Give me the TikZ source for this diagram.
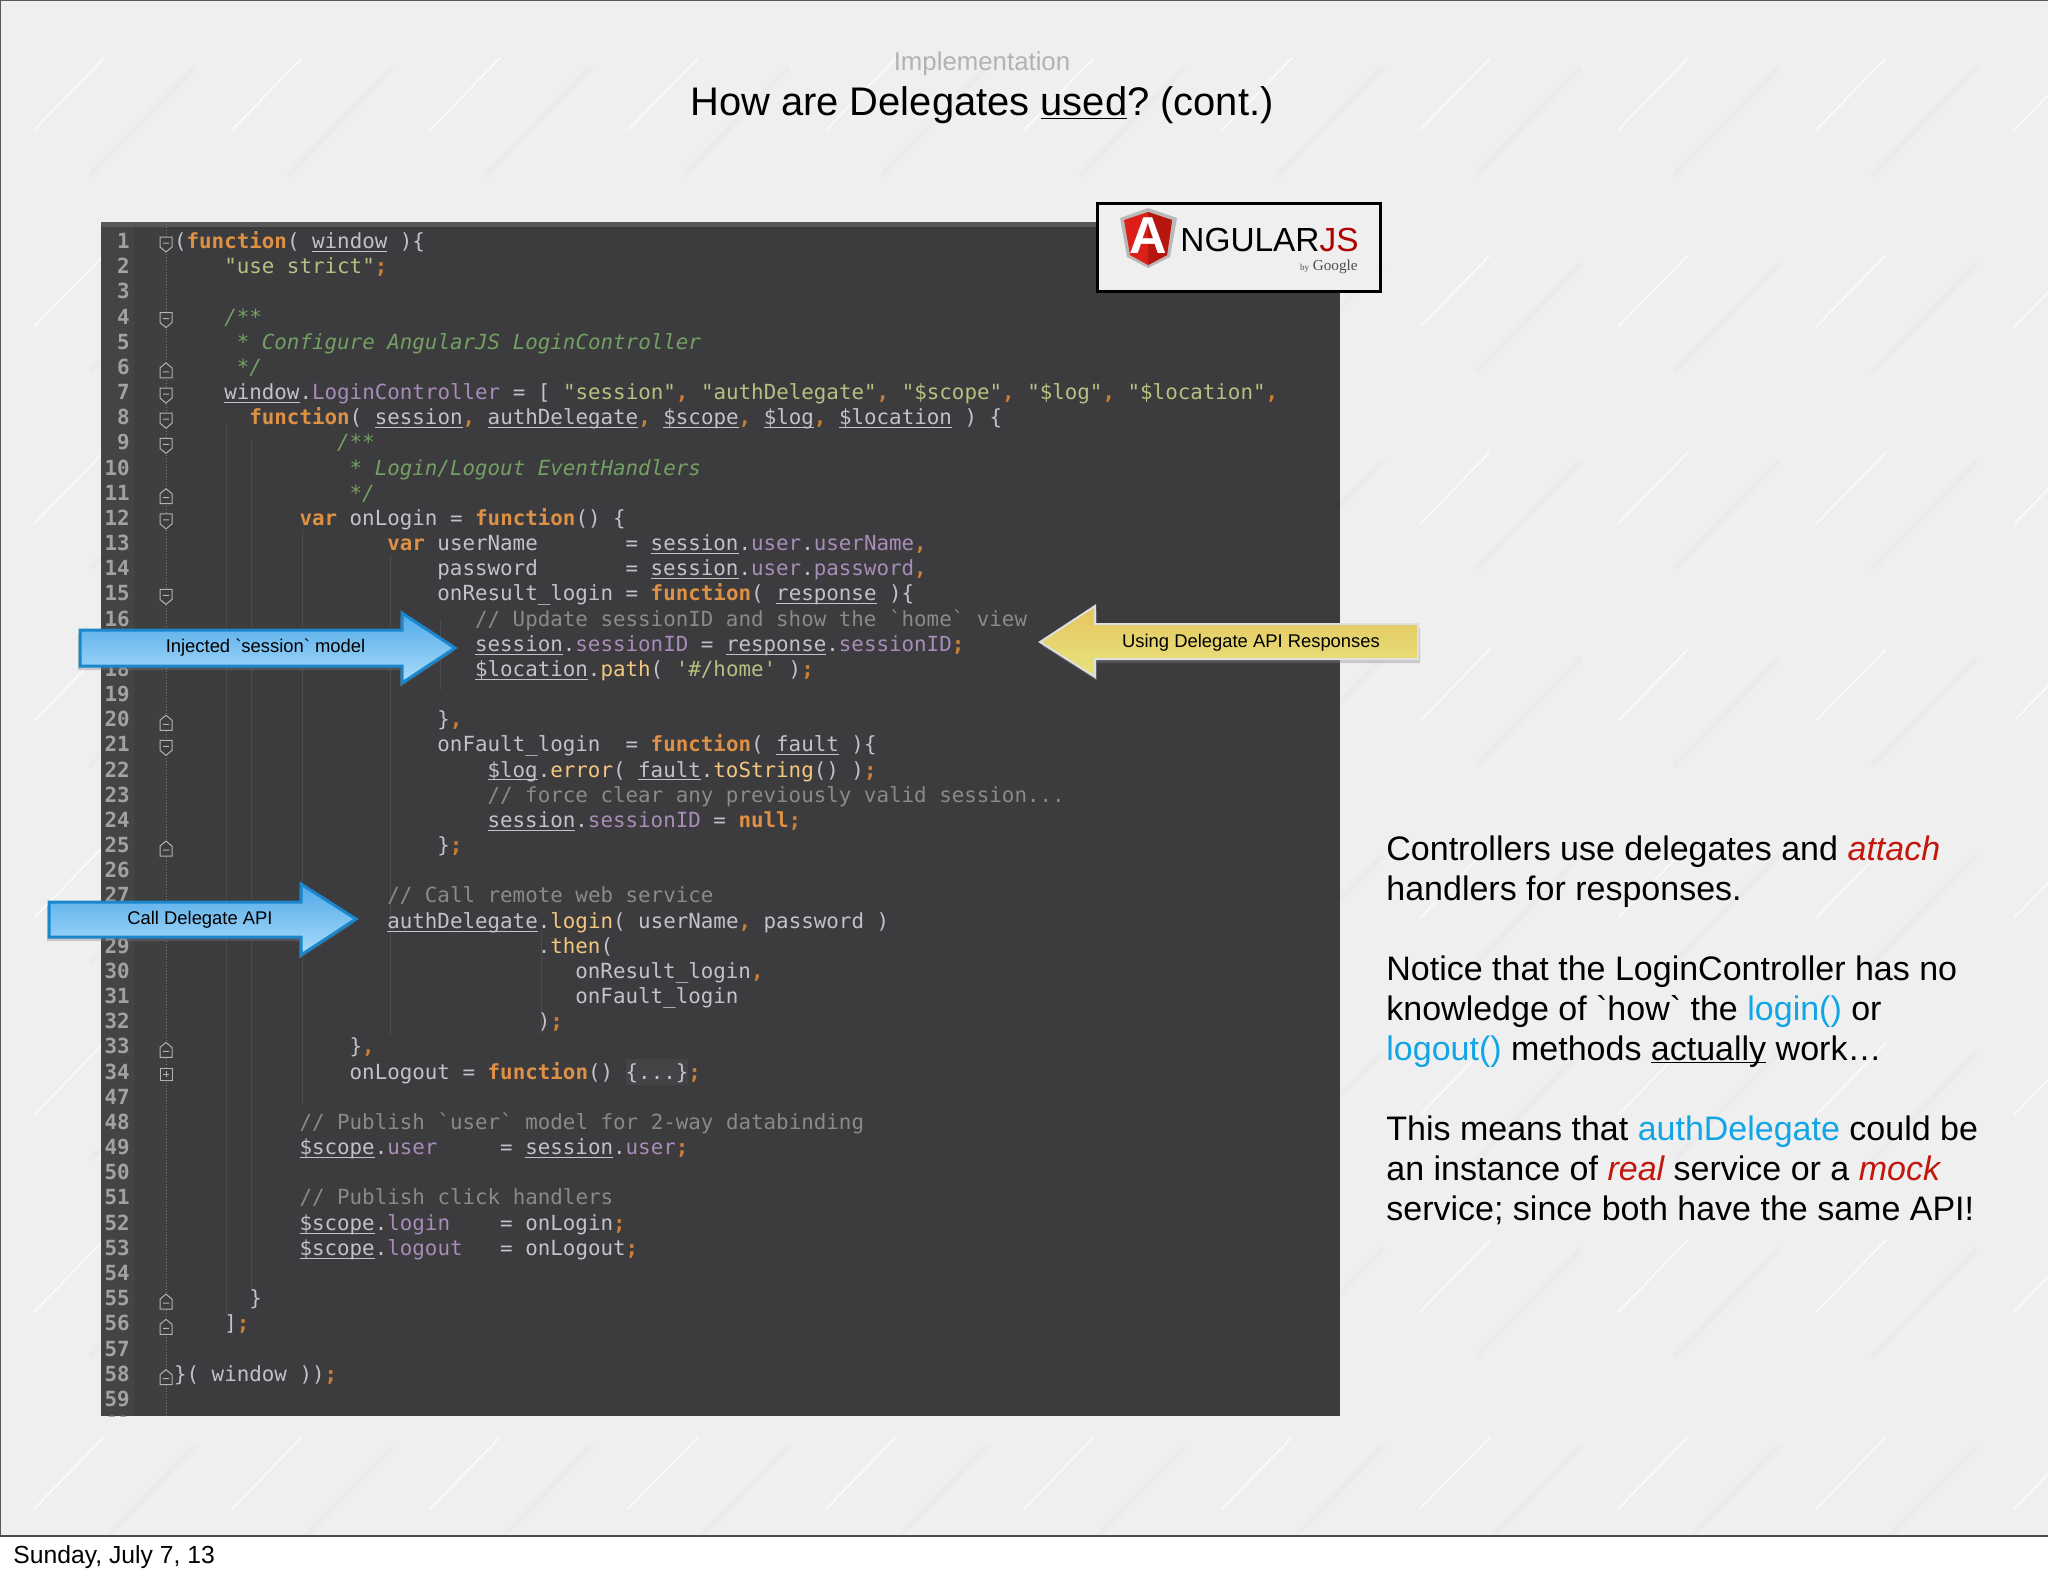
\documentclass[tikz,border=0pt]{standalone}
\usepackage{fontspec}
\usetikzlibrary{shadows}
\newfontfamily\slidefont{Liberation Sans}
\newfontfamily\seriffont{Liberation Serif}
\newfontfamily\codefont{DejaVu Sans Mono}
\definecolor{slidebg}{HTML}{EFEFF0}
\definecolor{panelbg}{HTML}{3C3B3E}
\definecolor{gutterbg}{HTML}{444446}
\definecolor{foldbg}{HTML}{3F3F41}
\definecolor{guideline}{HTML}{4B4B4D}
\definecolor{topstrip}{HTML}{58585A}
\definecolor{codetext}{HTML}{C2C2C8}
\definecolor{kwcolor}{HTML}{DE9044}
\definecolor{pnccolor}{HTML}{CC7F35}
\definecolor{strcolor}{HTML}{B3C280}
\definecolor{doccolor}{HTML}{73A063}
\definecolor{cmtcolor}{HTML}{8A8A8C}
\definecolor{prpcolor}{HTML}{A88CB9}
\definecolor{fnccolor}{HTML}{F4C77E}
\definecolor{numcolor}{HTML}{A2A2A4}
\definecolor{redword}{HTML}{C2170C}
\definecolor{blueword}{HTML}{12A5E6}
\definecolor{arrowblueline}{HTML}{1A86CB}
\definecolor{arrowbluetop}{HTML}{4FA8E8}
\definecolor{arrowbluelow}{HTML}{ABDDFB}
\definecolor{arrowyellowtop}{HTML}{E5C45E}
\definecolor{arrowyellowlow}{HTML}{E8E47E}
\definecolor{shieldleft}{HTML}{DD1F1A}
\definecolor{shieldright}{HTML}{B5170F}
\newlength\codew
\setlength\codew{6.27pt}
\newcommand\kwd[1]{{\bfseries\color{kwcolor}#1}}
\newcommand\pnc[1]{{\bfseries\color{pnccolor}#1}}
\newcommand\strg[1]{{\color{strcolor}#1}}
\newcommand\docc[1]{{\itshape\color{doccolor}#1}}
\newcommand\cmnt[1]{{\color{cmtcolor}#1}}
\newcommand\prp[1]{{\color{prpcolor}#1}}
\newcommand\fnc[1]{{\color{fnccolor}#1}}
\newcommand\usym[1]{\underline{\smash{#1}}}
\newcommand\sk[1]{\hspace*{#1\codew}}
% row, column, text
\newcommand\codeline[3]{\node[codeline] (row#1) at ({173.7+12.54*#2},{248.5+25.17*#1}) {#3};}
\tikzset{
  codeline/.style={anchor=base west,inner sep=0pt,text=codetext,font=\codefont\fontsize{10.42}{12}\selectfont},
  linenum/.style={anchor=base east,inner sep=0pt,text=numcolor,font=\codefont\fontsize{10.42}{12}\selectfont\bfseries},
  foldmark/.style={draw=gray!60,fill=panelbg,line width=.5pt},
  bluearrow/.style={draw=arrowblueline,line width=1.5pt,top color=arrowbluetop,bottom color=arrowbluelow,
    drop shadow={shadow xshift=-1pt,shadow yshift=-2pt,opacity=.35}},
  yellowarrow/.style={draw=gray!25,line width=1pt,top color=arrowyellowtop,bottom color=arrowyellowlow,
    drop shadow={shadow xshift=1pt,shadow yshift=-2pt,opacity=.35}},
  calloutlabel/.style={inner sep=0pt,text=black,font=\slidefont\frenchspacing\fontsize{9.2}{11}\selectfont},
  streak/.style={white,line width=.7pt,opacity=.8},
  streakwide/.style={black,line width=2.5pt,opacity=.015}
}
\begin{document}
\begin{tikzpicture}[x=.5pt,y=-.5pt]
\useasboundingbox (0,0) rectangle (2048,1576);
\fill[white] (0,0) rectangle (2048,1576);
\fill[slidebg] (0,0) rectangle (2048,1536);
\begin{scope}
\clip (0,0) rectangle (2048,1536);
\foreach \i in {-1,...,10}
  \foreach \j in {0,...,7} {
    \draw[streak] ({34+198*\i},{130+197*\j}) -- ++(70,-72);
    \draw[streakwide] ({90+198*\i},{175+197*\j}) -- ++(105,-108);
  }
\end{scope}
\draw[gray!70!black,line width=.6pt] (0,0) -- (2048,0) (0,0) -- (0,1536);
\draw[black!70,line width=1.2pt] (0,1536) -- (2048,1536);
% title
\node[text=gray!60,font=\slidefont\fontsize{12.9}{15}\selectfont] (section) at (982,64) {Implementation};
\node[anchor=base,inner sep=0pt,text=black,font=\slidefont\frenchspacing\fontsize{19.95}{24}\selectfont] (title) at (982,115) {How are Delegates \underline{used}? (cont.)};
% code panel
\fill[panelbg] (101,222) rectangle (1340,1416);
\fill[topstrip] (101,222) rectangle (1340,227);
\fill[gutterbg] (101,227) rectangle (134,1416);
\fill[foldbg] (134,227) rectangle (166,1416);
\draw[gray,line width=.5pt,densely dotted] (166,227) -- (166,1416);
\draw[guideline,line width=.4pt] (226,425) -- (226,1315) (251,440) -- (251,1290) (302,530) -- (302,1105) (390,555) -- (390,1035) (440,620) -- (440,690) (541,930) -- (541,1035);
\fill[gutterbg] (626,1059) rectangle (688,1085);
\begin{scope}
\clip (101,222) rectangle (1340,1416);
\foreach \n [count=\i from 0] in {1,...,34,47,48,...,60}
  \node[linenum] (num\n) at (130,{248.5+25.17*\i}) {\n};
\end{scope}
\foreach \r in {0,3,6,7,8,11,14,20}
  \draw[foldmark] (160,{237+25.17*\r}) -- (172,{237+25.17*\r}) -- (172,{247+25.17*\r}) -- (166,{252+25.17*\r}) -- (160,{247+25.17*\r}) -- cycle
    (163,{243+25.17*\r}) -- (169,{243+25.17*\r});
\foreach \r in {5,10,19,24,32,42,43,45}
  \draw[foldmark] (160,{252+25.17*\r}) -- (172,{252+25.17*\r}) -- (172,{242+25.17*\r}) -- (166,{237+25.17*\r}) -- (160,{242+25.17*\r}) -- cycle
    (163,{246+25.17*\r}) -- (169,{246+25.17*\r});
\draw[foldmark] (160,1068) rectangle (172,1080) (163,1074) -- (169,1074) (166,1071) -- (166,1077);
% code lines
\codeline{0}{0}{(\kwd{function}( \usym{window} )\{}
\codeline{1}{4}{\strg{"use strict"}\pnc{;}}
\codeline{3}{4}{\docc{/**}}
\codeline{4}{5}{\docc{* Configure AngularJS LoginController}}
\codeline{5}{5}{\docc{*/}}
\codeline{6}{4}{\usym{window}.\prp{LoginController} = [ \strg{"session"}\pnc{,} \strg{"authDelegate"}\pnc{,} \strg{"\$scope"}\pnc{,} \strg{"\$log"}\pnc{,} \strg{"\$location"}\pnc{,}}
\codeline{7}{6}{\kwd{function}( \usym{session}\pnc{,} \usym{authDelegate}\pnc{,} \usym{\$scope}\pnc{,} \usym{\$log}\pnc{,} \usym{\$location} ) \{}
\codeline{8}{13}{\docc{/**}}
\codeline{9}{14}{\docc{* Login/Logout EventHandlers}}
\codeline{10}{14}{\docc{*/}}
\codeline{11}{10}{\kwd{var} onLogin = \kwd{function}() \{}
\codeline{12}{17}{\kwd{var} userName\sk{7}= \usym{session}.\prp{user}.\prp{userName}\pnc{,}}
\codeline{13}{21}{password\sk{7}= \usym{session}.\prp{user}.\prp{password}\pnc{,}}
\codeline{14}{21}{onResult\_login = \kwd{function}( \usym{response} )\{}
\codeline{15}{24}{\cmnt{// Update sessionID and show the `home` view}}
\codeline{16}{24}{\usym{session}.\prp{sessionID} = \usym{response}.\prp{sessionID}\pnc{;}}
\codeline{17}{24}{\usym{\$location}.\fnc{path}( \strg{'\#/home'} )\pnc{;}}
\codeline{19}{21}{\}\pnc{,}}
\codeline{20}{21}{onFault\_login\sk{2}= \kwd{function}( \usym{fault} )\{}
\codeline{21}{25}{\usym{\$log}.\fnc{error}( \usym{fault}.\fnc{toString}() )\pnc{;}}
\codeline{22}{25}{\cmnt{// force clear any previously valid session...}}
\codeline{23}{25}{\usym{session}.\prp{sessionID} = \kwd{null}\pnc{;}}
\codeline{24}{21}{\}\pnc{;}}
\codeline{26}{17}{\cmnt{// Call remote web service}}
\codeline{27}{17}{\usym{authDelegate}.\fnc{login}( userName\pnc{,} password )}
\codeline{28}{29}{.\fnc{then}(}
\codeline{29}{32}{onResult\_login\pnc{,}}
\codeline{30}{32}{onFault\_login}
\codeline{31}{29}{)\pnc{;}}
\codeline{32}{14}{\}\pnc{,}}
\codeline{33}{14}{onLogout = \kwd{function}() \{...\}\pnc{;}}
\codeline{35}{10}{\cmnt{// Publish `user` model for 2-way databinding}}
\codeline{36}{10}{\usym{\$scope}.\prp{user}\sk{5}= \usym{session}.\prp{user}\pnc{;}}
\codeline{38}{10}{\cmnt{// Publish click handlers}}
\codeline{39}{10}{\usym{\$scope}.\prp{login}\sk{4}= onLogin\pnc{;}}
\codeline{40}{10}{\usym{\$scope}.\prp{logout}\sk{3}= onLogout\pnc{;}}
\codeline{42}{6}{\}}
\codeline{43}{4}{]\pnc{;}}
\codeline{45}{0}{\}( window ))\pnc{;}}
% logo
\draw[black,line width=1.5pt,fill=slidebg,drop shadow={shadow xshift=0pt,shadow yshift=-1pt,opacity=.4}] (1097,203) rectangle (1380,291);
\fill[gray!55] (1148,208) -- (1177,218) -- (1170,257) -- (1148,268) -- (1127,257) -- (1120,218) -- cycle;
\fill[shieldleft] (1148,212) -- (1172,220) -- (1167,255) -- (1148,265) -- (1130,255) -- (1124,220) -- cycle;
\fill[shieldright] (1148,212) -- (1172,220) -- (1167,255) -- (1148,265) -- cycle;
\node[anchor=base,inner sep=0pt,text=white,font=\slidefont\bfseries\fontsize{26}{30}\selectfont] (logoa) at (1148,253) {A};
\node[anchor=base west,inner sep=0pt,font=\slidefont\fontsize{16.7}{20}\selectfont] (logoname) at (1180,251) {NGULAR\textcolor{red!70!black}{JS}};
\node[anchor=base east,inner sep=0pt,text=black!70,font=\seriffont\fontsize{7.6}{9}\selectfont] (logogoogle) at (1358,270) {{\fontsize{4.5}{5}\selectfont by} Google};
% arrows
\path[bluearrow] (80,630) -- (402,630) -- (402,613) -- (455,648) -- (402,683) -- (402,666) -- (80,666) -- cycle;
\node[calloutlabel] (injected) at (265.5,647.5) {Injected `session` model};
\path[bluearrow] (49,902) -- (301,902) -- (301,884) -- (356,919) -- (301,955) -- (301,937) -- (49,937) -- cycle;
\node[calloutlabel] (calldelegate) at (200,919.5) {Call Delegate API};
\path[yellowarrow] (1418,624) -- (1095,624) -- (1095,606) -- (1040,642) -- (1095,677) -- (1095,659) -- (1418,659) -- cycle;
\node[calloutlabel] (responses) at (1251,642.5) {Using Delegate API Responses};
% notes
\node[anchor=base west,inner sep=0pt,align=left,text=black,font=\slidefont\frenchspacing\fontsize{17}{20}\selectfont] (notes) at (1386,1220) {Controllers use delegates and \textcolor{redword}{\itshape attach}\\
handlers for responses.\\[20pt]
Notice that the LoginController has no\\
knowledge of `how` the \textcolor{blueword}{login()} or\\
\textcolor{blueword}{logout()} methods \underline{\smash{actually}} work\ldots\\[20pt]
This means that \textcolor{blueword}{authDelegate} could be\\
an instance of \textcolor{redword}{\itshape real} service or a \textcolor{redword}{\itshape mock}\\
service; since both have the same API!};
\node[anchor=base west,inner sep=0pt,text=black,font=\slidefont\frenchspacing\fontsize{12.35}{14}\selectfont] (datestamp) at (13,1563) {Sunday, July 7, 13};
\end{tikzpicture}
\end{document}
